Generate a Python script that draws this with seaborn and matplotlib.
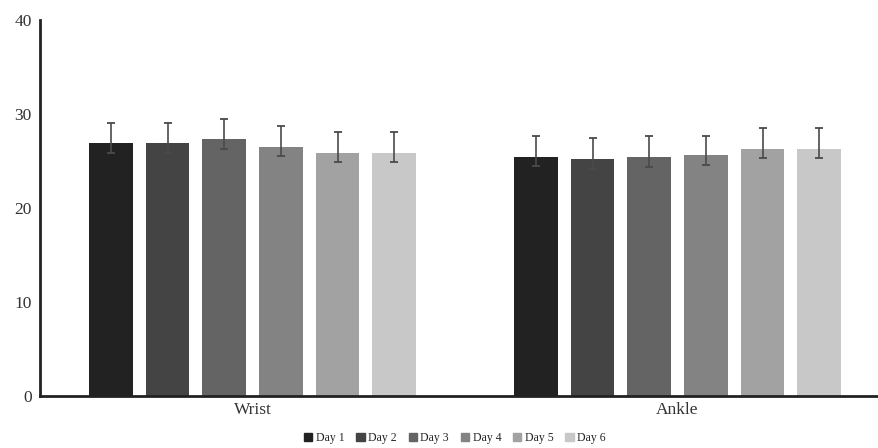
import pandas as pd
import numpy as np
import matplotlib
matplotlib.use("Agg")
import matplotlib.pyplot as plt
import seaborn as sns

# -------------------------
# Data
# -------------------------
sites = ["Wrist", "Ankle"]
days = ["Day 1", "Day 2", "Day 3", "Day 4", "Day 5", "Day 6"]
wrist_mean = [26.9, 26.9, 27.35, 26.5, 25.9, 25.9]
ankle_mean = [25.4, 25.2, 25.4, 25.6, 26.3, 26.3]
wrist_err_up = [2.1, 2.1, 2.15, 2.2, 2.2, 2.2]
wrist_err_low = [1.0, 1.05, 1.05, 1.0, 1.0, 1.0]
ankle_err_up = [2.3, 2.2, 2.3, 2.1, 2.2, 2.2]
ankle_err_low = [0.9, 1.1, 1.0, 1.0, 1.0, 1.0]
colors = ["#222222", "#444444", "#646464", "#838383", "#a2a2a2", "#c8c8c8"]

df = pd.DataFrame({
    "Site": ["Wrist"] * 6 + ["Ankle"] * 6,
    "Day": days * 2,
    "Value": wrist_mean + ankle_mean,
    "ErrUp": wrist_err_up + ankle_err_up,
    "ErrLow": wrist_err_low + ankle_err_low,
})

# -------------------------
# Plot
# -------------------------
sns.set_style("white")
plt.rcParams["font.family"] = ["Liberation Serif", "DejaVu Serif"]

fig = plt.figure(figsize=(8.79, 4.48), dpi=100)
ax = fig.add_axes([40 / 879, 1 - 396 / 448, 1 - 40 / 879, (396 - 20) / 448])

sns.barplot(data=df, x="Site", y="Value", hue="Day", order=sites, hue_order=days,
            palette=colors, width=0.8, gap=0.23, errorbar=None, ax=ax,
            linewidth=0, legend=False)

# error bars from the bar patches
for i, day in enumerate(days):
    cont = ax.containers[i]
    sub = df[df["Day"] == day].set_index("Site").loc[sites]
    xs = [p.get_x() + p.get_width() / 2 for p in cont.patches]
    ax.errorbar(xs, sub["Value"], yerr=[sub["ErrLow"], sub["ErrUp"]], fmt="none",
                ecolor="#4a4a4a", elinewidth=1.2, capsize=3, capthick=1.3)

ax.set_ylim(0, 40)
ax.set_xlim(-0.5, 1.5 - 11 / 425)
ax.set_yticks([0, 10, 20, 30, 40])
ax.set_xlabel("")
ax.set_ylabel("")
ax.tick_params(axis="both", length=0, labelsize=12.5, colors="#333333")
ax.tick_params(axis="y", pad=6)
ax.tick_params(axis="x", pad=4)
for s in ["top", "right"]:
    ax.spines[s].set_visible(False)
for s in ["left", "bottom"]:
    ax.spines[s].set_linewidth(2)
    ax.spines[s].set_color("#222222")

handles = [plt.Rectangle((0, 0), 1, 1, color=c) for c in colors]
fig.legend(handles, days, loc="center", bbox_to_anchor=(455 / 879, 1 - 438 / 448),
           ncol=6, frameon=False, fontsize=8.5, handlelength=0.7, handleheight=0.7,
           handletextpad=0.3, columnspacing=1.0)

fig.savefig("out.png", dpi=100)
